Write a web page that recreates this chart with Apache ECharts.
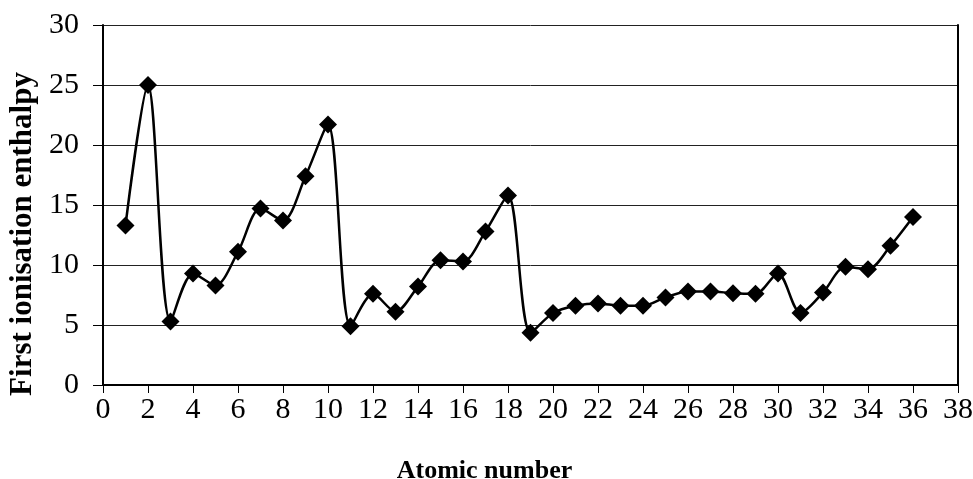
<!DOCTYPE html>
<html>
<head>
<meta charset="utf-8">
<script src="https://cdn.jsdelivr.net/npm/echarts@6/dist/echarts.min.js"></script>
<style>
  html, body { margin: 0; padding: 0; background: #fff; }
  #grafico { width: 973px; height: 479px; }
</style>
</head>
<body>
<div id="grafico"></div>
<script>
// atomic numbers 1..36 and first ionisation enthalpy
var atomicNumber = [1, 2, 3, 4, 5, 6, 7, 8, 9, 10, 11, 12, 13, 14, 15, 16, 17, 18,
  19, 20, 21, 22, 23, 24, 25, 26, 27, 28, 29, 30, 31, 32, 33, 34, 35, 36];
var enthalpy = [13.3, 25.0, 5.3, 9.3, 8.3, 11.1, 14.7, 13.7, 17.4, 21.7, 4.9, 7.6,
  6.1, 8.2, 10.4, 10.3, 12.8, 15.8, 4.35, 6.0, 6.6, 6.8, 6.6, 6.6, 7.3, 7.8,
  7.8, 7.65, 7.6, 9.3, 6.0, 7.7, 9.85, 9.65, 11.6, 14.0];
var xTicks = [0, 38, 2];   // min, max, step
var yTicks = [0, 30, 5];

var fonte = 'Liberation Serif';

var pontos = [];
for (var i = 0; i < atomicNumber.length; i++) {
  pontos.push([atomicNumber[i], enthalpy[i]]);
}

var myChart = echarts.init(document.getElementById('grafico'));
var option = {
  animation: false,
  backgroundColor: '#fff',
  grid: { left: 103, right: 15, top: 25, bottom: 94, containLabel: false, outerBoundsMode: 'none' },
  xAxis: {
    type: 'value',
    min: xTicks[0], max: xTicks[1], interval: xTicks[2],
    name: 'Atomic number',
    nameLocation: 'middle',
    nameGap: 73,
    nameTextStyle: { fontFamily: fonte, fontWeight: 'bold', fontSize: 26, color: '#000', padding: [0, 92, 0, 0] },
    axisLine: { show: true, onZero: false, lineStyle: { color: '#000', width: 2 } },
    axisTick: { show: true, length: 8, lineStyle: { color: '#000', width: 1 } },
    axisLabel: { fontFamily: fonte, fontSize: 30, color: '#000', margin: 10 },
    splitLine: { show: false }
  },
  yAxis: [{
    type: 'value',
    min: yTicks[0], max: yTicks[1], interval: yTicks[2],
    name: 'First ionisation enthalpy',
    nameLocation: 'middle',
    nameGap: 64,
    nameTextStyle: { fontFamily: fonte, fontWeight: 'bold', fontSize: 31, color: '#000', padding: [0, 58, 0, 0] },
    axisLine: { show: true, lineStyle: { color: '#000', width: 2 } },
    axisTick: { show: true, length: 10, lineStyle: { color: '#000', width: 1 } },
    axisLabel: { fontFamily: fonte, fontSize: 30, color: '#000', margin: 24 },
    splitLine: { show: true, lineStyle: { color: '#222', width: 1 } }
  }, {
    // right edge of the plot area
    type: 'value',
    position: 'right',
    min: yTicks[0], max: yTicks[1], interval: yTicks[2],
    axisLine: { show: true, lineStyle: { color: '#000', width: 2 } },
    axisTick: { show: false },
    axisLabel: { show: false },
    splitLine: { show: false }
  }],
  series: [{
    type: 'line',
    data: pontos,
    smooth: 0.3,
    symbol: 'diamond',
    symbolSize: [18, 18],
    itemStyle: { color: '#000' },
    lineStyle: { color: '#000', width: 2.5 }
  }]
};
myChart.setOption(option);
</script>
</body>
</html>
